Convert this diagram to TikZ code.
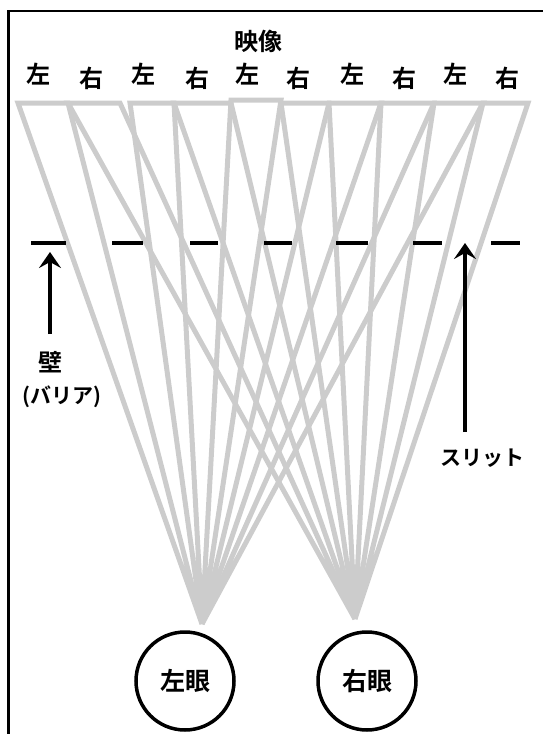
\documentclass[tikz,border=0pt]{standalone}
\usepackage{fontspec}
\newfontfamily\jp{Noto Sans CJK JP}[BoldFont={Noto Sans CJK JP Bold}]
\usetikzlibrary{arrows.meta}
\begin{document}
\begin{tikzpicture}[x=1pt,y=-1pt,
  ray/.style={draw=black!20,line width=5pt},
  lbl/.style={font=\jp\bfseries\fontsize{24}{24}\selectfont,inner sep=0pt},
  smalllbl/.style={font=\jp\bfseries\fontsize{21}{21}\selectfont,inner sep=0pt},
  eyebox/.style={circle,draw,line width=3.5pt,minimum size=98pt,inner sep=0pt,
    font=\jp\bfseries\fontsize{25}{25}\selectfont},
  wallseg/.style={line width=3.5pt},
  arr/.style={line width=4pt,-{Stealth[length=16pt,width=22pt,inset=6pt]}}]
\useasboundingbox (0,0) rectangle (543,734);
% frame
\draw[line width=2.5pt] (8.5,734) -- (8.5,11) -- (543,11);
% apexes
\coordinate (LA) at (202,624);
\coordinate (RA) at (355,619);
% rays
\foreach \a/\b/\y in {18/68/103,130/174/103,231/281/100,329/381/103,434/483/103}
  \draw[ray] (LA) -- (\a,\y) -- (\b,\y) -- (LA);
\foreach \a/\b/\y in {68/120/103,174/231/103,281/329/103,381/434/103,483/528/103}
  \draw[ray] (RA) -- (\a,\y) -- (\b,\y) -- (RA);
% barrier
\foreach \a/\b in {31/66,112/143,190/218,264/292,336/368,413/442,491/520}
  \draw[wallseg] (\a,243) -- (\b,243);
% labels
\node[lbl] (img) at (258,41) {映像};
\foreach \x/\t/\y [count=\i] in {38/左/74,91/右/78,143/左/74,197/右/78,247/左/74,298/右/78,352/左/74,404/右/78,455/左/74,507/右/78}
  \node[lbl] (s\i) at (\x,\y) {\t};
\node[lbl] (wall) at (50,362) {壁};
\node[smalllbl] (barrier) at (62,397) {(バリア)};
\node[smalllbl] (slit) at (482,458) {スリット};
\coordinate (wtail) at (50,334);
\coordinate (wtip) at (50,252);
\coordinate (stail) at (465,432);
\coordinate (stip) at (465,243);
\draw[arr] (wtail) -- (wtip);
\draw[arr] (stail) -- (stip);
% eyes
\node[eyebox] (le) at (185,681) {左眼};
\node[eyebox] (re) at (367,681) {右眼};
\end{tikzpicture}
\end{document}
